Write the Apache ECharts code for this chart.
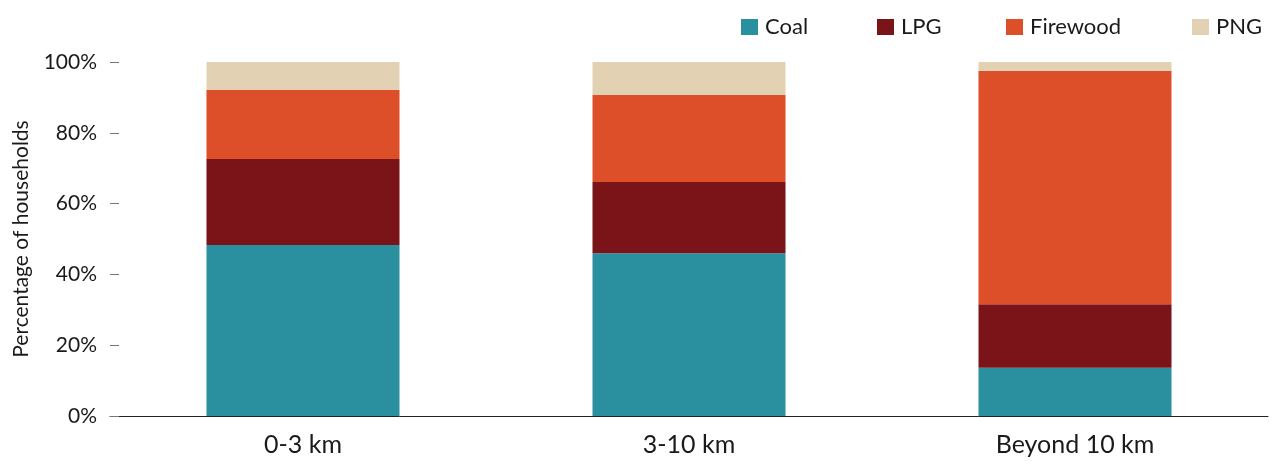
<!DOCTYPE html>
<html>
<head>
<meta charset="utf-8">
<script src="https://cdn.jsdelivr.net/npm/echarts@6/dist/echarts.min.js"></script>
<style>
  html, body { margin: 0; padding: 0; background: #fff; }
  #chart { width: 1269px; height: 461px; }
</style>
</head>
<body>
<div id="chart"></div>
<script>
// Distance bands from the source
const categories = ['0-3 km', '3-10 km', 'Beyond 10 km'];

// Share of households (%) using each fuel
const coal     = [48.3, 46.0, 13.6];
const lpg      = [24.3, 20.1, 18.0];
const firewood = [19.5, 24.6, 65.9];
const png      = [7.9, 9.3, 2.5];

const yTicks = [0, 20, 40, 60, 80, 100];

const FONT = 'Lato';
const TEXT = '#1a1a1a';

const seriesDefs = [
  { name: 'Coal',     data: coal,     color: '#2a90a0', legendLeft: 741 },
  { name: 'LPG',      data: lpg,      color: '#7b1418', legendLeft: 877 },
  { name: 'Firewood', data: firewood, color: '#dc4f28', legendLeft: 1006 },
  { name: 'PNG',      data: png,      color: '#e2d2b3', legendLeft: 1192 }
];

const chart = echarts.init(document.getElementById('chart'), null, { renderer: 'canvas' });

chart.setOption({
  backgroundColor: '#ffffff',
  animation: false,
  textStyle: { fontFamily: FONT },
  legend: seriesDefs.map(s => ({
    data: [s.name],
    left: s.legendLeft,
    top: 16,
    padding: 0,
    itemWidth: 17,
    itemHeight: 16,
    itemGap: 0,
    icon: 'rect',
    textStyle: { fontFamily: FONT, fontSize: 22, color: TEXT, padding: [0, 0, 0, 2] }
  })),
  grid: { left: 110, right: 1, top: 62, bottom: 45, containLabel: false, outerBoundsMode: 'none' },
  xAxis: {
    type: 'category',
    data: categories,
    axisLine: { show: true, lineStyle: { color: '#222', width: 1 } },
    axisTick: { show: false },
    axisLabel: { fontFamily: FONT, fontSize: 25, color: TEXT, margin: 16 }
  },
  yAxis: {
    type: 'value',
    min: yTicks[0],
    max: yTicks[yTicks.length - 1],
    interval: 20,
    name: 'Percentage of households',
    nameLocation: 'middle',
    nameGap: 78,
    nameTextStyle: { fontFamily: FONT, fontSize: 21, color: TEXT },
    axisLine: { show: false },
    axisTick: { show: true, inside: true, length: 9, lineStyle: { color: '#777', width: 1 } },
    axisLabel: { fontFamily: FONT, fontSize: 21, color: TEXT, margin: 13, formatter: '{value}%' },
    splitLine: { show: false }
  },
  series: seriesDefs.map(s => ({
    name: s.name,
    type: 'bar',
    stack: 'total',
    barWidth: '50%',
    data: s.data,
    itemStyle: { color: s.color },
    emphasis: { disabled: true }
  }))
});
</script>
</body>
</html>
